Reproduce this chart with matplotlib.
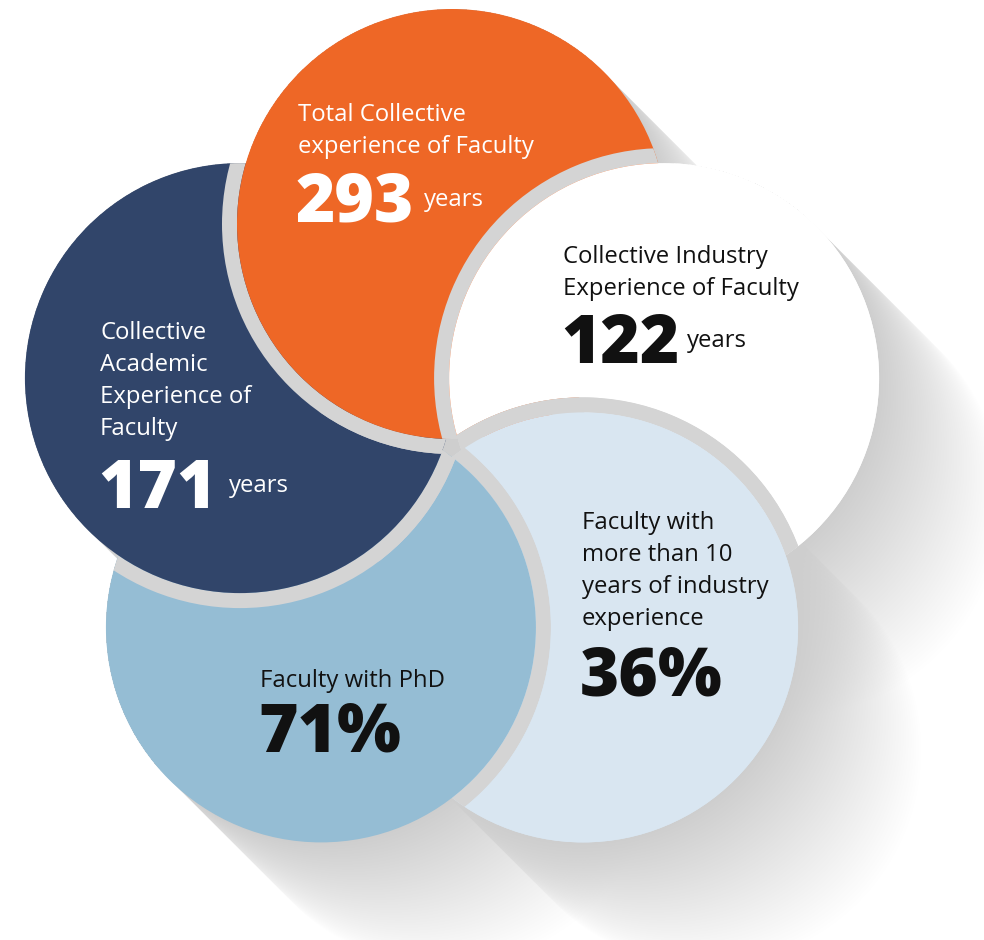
import numpy as np
import matplotlib.pyplot as plt
from matplotlib.patches import Circle, Wedge
from matplotlib.path import Path

plt.rcParams['font.family'] = ['Open Sans', 'DejaVu Sans']

W, H = 984, 940

# ---------------- data ----------------
labels = [
    ["Total Collective", "experience of Faculty"],                         # orange
    ["Collective Industry", "Experience of Faculty"],                      # white
    ["Faculty with", "more than 10", "years of industry", "experience"],   # pale blue
    ["Faculty with PhD"],                                                  # light blue
    ["Collective", "Academic", "Experience of", "Faculty"],                # navy
]
values = [293, 122, 36, 71, 171]
value_suffix = ["", "", "%", "%", ""]
units = ["years", "years", "", "", "years"]

fill_colors = ['#EE6726', '#FFFFFF', '#D9E6F1', '#95BDD4', '#31456A']
text_colors = ['white', '#111111', '#111111', '#111111', 'white']

# ---------------- layout ----------------
centre = (452, 447)      # middle of the pinwheel (pixels, y down)
R_ring = 223             # distance of circle centres from the middle
r = 215                  # circle radius
ring_w = 15              # grey border width
angles = np.deg2rad([90, 18, -54, -126, 162])
cxs = centre[0] + R_ring * np.cos(angles)
cys = centre[1] - R_ring * np.sin(angles)

text_x = [298, 563, 582, 260, 100]
text_y0 = [121, 263, 529, 687, 339]
num_y = [222, 363, 695, 752, 508]
unit_x = [424, 687, None, None, 229]
line_h = 32

ring_grey = '#D4D4D4'
shadow_grey = 0.81

fig = plt.figure(figsize=(W / 100, H / 100), dpi=100)
ax = fig.add_axes([0, 0, 1, 1])
ax.set_xlim(0, W)
ax.set_ylim(H, 0)
ax.axis('off')

# ---------------- long shadows (on the background) ----------------
xs = np.arange(W) + 0.5
ys = np.arange(H) + 0.5
X, Y = np.meshgrid(xs, ys)
sq2 = np.sqrt(2)


def long_shadow(cx, cy, rad, length=175):
    qx, qy = X - cx, Y - cy
    s = (qx + qy) / sq2
    h = np.abs(qx - qy) / sq2
    w = np.sqrt(np.clip(rad**2 - h**2, 0, None))
    t = np.clip(s - w, 0, None)
    a = np.clip(1 - t / length, 0, 1)
    a *= np.clip(rad - h, 0, 1)
    a[s + w < 0] = 0
    img = np.zeros((H, W, 4))
    img[..., :3] = shadow_grey
    img[..., 3] = a
    return img


for k in [1, 3, 4, 0, 2]:
    ax.imshow(long_shadow(cxs[k], cys[k], r), extent=(0, W, H, 0),
              origin='upper', interpolation='bilinear', zorder=1)


def disk(k, rad=r):
    return Circle((cxs[k], cys[k]), rad, transform=ax.transData)


def outside(k, rad):
    # whole canvas with a hole where circle k sits
    theta = np.linspace(0, 2 * np.pi, 400)
    hole = np.column_stack([cxs[k] + rad * np.cos(theta),
                            cys[k] + rad * np.sin(theta)])[::-1]
    box = np.array([[-10, -10], [W + 10, -10], [W + 10, H + 10],
                    [-10, H + 10], [-10, -10]])
    return Path.make_compound_path(Path(box, closed=True), Path(hole, closed=True))


def add_ring(k, clip_k, zorder):
    ring = Wedge((cxs[k], cys[k]), r + ring_w, 0, 360, width=ring_w,
                 facecolor=ring_grey, edgecolor='none', zorder=zorder)
    ax.add_patch(ring)
    ring.set_clip_path(disk(clip_k))


# ---------------- circles (pinwheel) ----------------
# stacking: white < pale blue < light blue < navy < orange, then white is
# brought back above orange (and pale blue above that) to close the loop
order = [1, 2, 3, 4, 0]
z = 2
for i, k in enumerate(order):
    for lower in order[:i]:
        add_ring(k, lower, z)
    ax.add_patch(Circle((cxs[k], cys[k]), r, facecolor=fill_colors[k],
                        edgecolor='none', zorder=z + 1))
    z += 2

# white over orange
add_ring(1, 0, z)
top_white = Circle((cxs[1], cys[1]), r, facecolor=fill_colors[1],
                   edgecolor='none', zorder=z + 1)
ax.add_patch(top_white)
top_white.set_clip_path(outside(2, r + ring_w), ax.transData)
z += 2

# pale blue over white and orange, still under light blue
for lower in [1, 0]:
    ring = Wedge((cxs[2], cys[2]), r + ring_w, 0, 360, width=ring_w,
                 facecolor=ring_grey, edgecolor='none', zorder=z)
    ax.add_patch(ring)
    ring.set_clip_path(disk(lower))
top_pale = Circle((cxs[2], cys[2]), r, facecolor=fill_colors[2],
                  edgecolor='none', zorder=z + 1)
ax.add_patch(top_pale)
top_pale.set_clip_path(outside(3, r + ring_w), ax.transData)

# ---------------- text ----------------
for k in range(5):
    for j, line in enumerate(labels[k]):
        ax.text(text_x[k], text_y0[k] + j * line_h, line, fontsize=17.2,
                color=text_colors[k], ha='left', va='baseline', zorder=50)
    ax.text(text_x[k] - 2, num_y[k], f"{values[k]}{value_suffix[k]}",
            fontsize=48.5, fontweight='heavy', color=text_colors[k],
            ha='left', va='baseline', zorder=50)
    if units[k]:
        ax.text(unit_x[k], num_y[k] - 16, units[k], fontsize=17.2,
                color=text_colors[k], ha='left', va='baseline', zorder=50)

fig.savefig('out.png', dpi=100, facecolor='white')
